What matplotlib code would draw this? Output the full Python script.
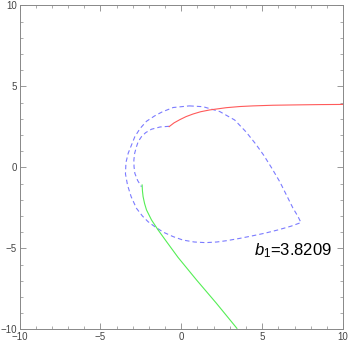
import matplotlib
matplotlib.use("Agg")
import matplotlib.pyplot as plt
from matplotlib.ticker import MultipleLocator

plt.rcParams['font.family'] = ['Liberation Sans', 'DejaVu Sans']
plt.rcParams['mathtext.fontset'] = 'custom'
plt.rcParams['mathtext.rm'] = 'Liberation Sans'
plt.rcParams['mathtext.it'] = 'Liberation Sans:italic'
plt.rcParams['mathtext.bf'] = 'Liberation Sans:bold'
plt.rcParams['lines.scale_dashes'] = False

# Blue dashed outer loop
outer_x = [0.5, 1.35, 2.38, 3.3, 4.0, 4.6, 5.1, 5.6, 6.1, 6.5, 6.9, 7.2, 7.4,
           6.8, 6.0, 5.2, 4.4, 3.6, 2.8, 2.2, 1.5, 0.8, 0.1, -0.5, -1.1, -1.6, -2.05,
           -2.4, -2.77, -3.1, -3.32, -3.45, -3.42, -3.28, -2.87, -2.55, -2.15,
           -1.65, -1.2, -0.5, 0.5]
outer_y = [3.80, 3.75, 3.45, 2.93, 2.2, 1.45, 0.75, -0.05, -0.9, -1.7, -2.5, -3.0, -3.40,
           -3.62, -3.85, -4.05, -4.22, -4.38, -4.52, -4.60, -4.64, -4.60, -4.48, -4.27, -4.0, -3.68, -3.35,
           -3.0, -2.52, -1.80, -1.10, -0.40, 0.30, 0.88, 1.90, 2.40, 2.85,
           3.18, 3.42, 3.70, 3.80]

# Blue dashed inner branch
inner_x = [-0.75, -1.3, -1.84, -2.20, -2.46, -2.66, -2.77, -2.88, -2.93, -2.92, -2.87, -2.70, -2.46]
inner_y = [2.54, 2.50, 2.36, 2.15, 1.90, 1.60, 1.28, 0.88, 0.46, 0.05, -0.36, -0.80, -1.19]

# Red curve
red_x = [-0.75, -0.45, -0.09, 0.30, 0.73, 1.20, 1.76, 2.79, 3.61, 4.43, 5.67, 7.0, 8.55, 10.0]
red_y = [2.52, 2.75, 2.95, 3.14, 3.30, 3.44, 3.55, 3.69, 3.76, 3.80, 3.84, 3.86, 3.88, 3.89]

# Green curve
green_x = [-2.42, -2.40, -2.36, -2.27, -2.15, -1.84, -1.43, -0.91, -0.20, 0.94, 2.17, 3.44]
green_y = [-1.08, -1.45, -1.80, -2.22, -2.62, -3.24, -3.86, -4.58, -5.55, -6.94, -8.38, -9.93]

label_text = "$b_1$=3.8209"

fig = plt.figure(figsize=(3.49, 3.44), dpi=100)
ax = fig.add_axes([0.0559, 0.0422, 0.927, 0.942])

ax.plot(outer_x, outer_y, color='#7b7bff', lw=0.8, dashes=(3.2, 2.2))
ax.plot(inner_x, inner_y, color='#7b7bff', lw=0.8, dashes=(3.2, 2.2))
ax.plot(red_x, red_y, color='#ff5a5a', lw=0.8)
ax.plot(green_x, green_y, color='#55ee55', lw=0.8)

ax.text(4.5, -5.4, label_text, fontsize=12, color='black', ha='left', va='baseline')

ax.set_xlim(-10, 10)
ax.set_ylim(-10, 10)
ax.xaxis.set_minor_locator(MultipleLocator(1))
ax.yaxis.set_minor_locator(MultipleLocator(1))
ax.tick_params(which='both', direction='in', top=True, right=True, color='#888888',
               labelsize=7, labelcolor='#444444', pad=2)
ax.tick_params(which='major', length=4, width=0.6)
ax.tick_params(which='minor', length=2.2, width=0.5)
ax.tick_params(labeltop=False, labelright=False)
for s in ax.spines.values():
    s.set_color('#888888')
    s.set_linewidth(0.7)

ticks = [-10, -5, 0, 5, 10]
def fmt(v):
    return ("\u2212" + str(int(abs(v)))) if v < 0 else str(int(v))
ax.set_xticks(ticks)
ax.set_yticks(ticks)
ax.set_xticklabels([fmt(v) for v in ticks])
ax.set_yticklabels([fmt(v) for v in ticks])

fig.savefig("out.png", dpi=100)
